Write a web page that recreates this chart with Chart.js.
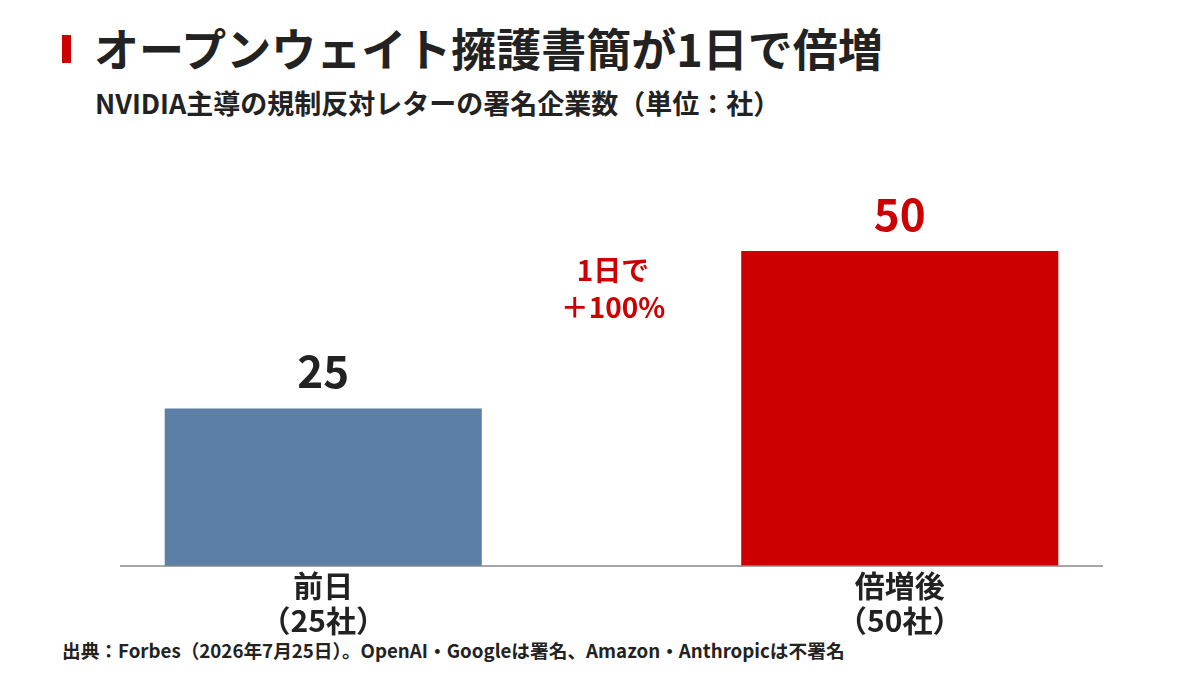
<!DOCTYPE html>
<html><head><meta charset="utf-8">
<script src="https://cdn.jsdelivr.net/npm/chart.js@4"></script>
<style>
body{margin:0;width:1200px;height:675px;background:#fff;font-family:"Noto Sans CJK JP","Noto Sans",sans-serif;position:relative;overflow:hidden}
#c{position:absolute;left:0;top:0}
.t{position:absolute;font-weight:700;color:#222;white-space:nowrap;line-height:1}
</style></head><body>
<div style="position:absolute;left:62px;top:35px;width:9px;height:28px;background:#cc0000"></div>
<div class="t" style="left:94px;top:25px;font-size:45px;">オープンウェイト擁護書簡が1日で倍増</div>
<div class="t" style="left:95px;top:89px;font-size:27px;">NVIDIA主導の規制反対レターの署名企業数（単位：社）</div>
<div class="t" style="left:62px;top:641px;font-size:18.7px;">出典：Forbes（2026年7月25日）。OpenAI・Googleは署名、Amazon・Anthropicは不署名</div>
<canvas id="c" width="1200" height="675"></canvas>
<script>
const categories=[["前日","（25社）"],["倍増後","（50社）"]];
const values=[25,50];
const colors=["#5b7fa6","#cc0000"];
const labelColors=["#222222","#cc0000"];
const note=["1日で","＋100%"];
const F='"Noto Sans CJK JP","Noto Sans",sans-serif';
const deco={id:'deco',afterDraw(ch){
 const c=ch.ctx,x=ch.scales.x,y=ch.scales.y;const base=y.getPixelForValue(0);
 c.save();c.strokeStyle='#888';c.lineWidth=1.5;c.beginPath();c.moveTo(120,base);c.lineTo(1103,base);c.stroke();
 c.textAlign='center';c.textBaseline='middle';
 values.forEach((v,i)=>{const px=x.getPixelForValue(i);
  c.fillStyle=labelColors[i];c.font='bold 44px '+F;c.fillText(String(v),px,y.getPixelForValue(v)-37);
  c.fillStyle='#222';c.font='bold 30px '+F;categories[i].forEach((l,j)=>c.fillText(l,px,586+j*35));});
 c.fillStyle='#cc0000';c.font='bold 28px '+F;note.forEach((l,j)=>c.fillText(l,613,270+j*37));
 c.restore();}};
new Chart(document.getElementById('c'),{type:'bar',
 data:{labels:categories.map(a=>a.join(' ')),datasets:[{data:values,backgroundColor:colors,barPercentage:0.55,categoryPercentage:1}]},
 options:{responsive:false,animation:false,layout:{padding:{top:188,bottom:109,left:35,right:12}},
  plugins:{legend:{display:false},tooltip:{enabled:false}},
  scales:{x:{display:false},y:{display:false,min:0,max:60}}},plugins:[deco]});
</script></body></html>
